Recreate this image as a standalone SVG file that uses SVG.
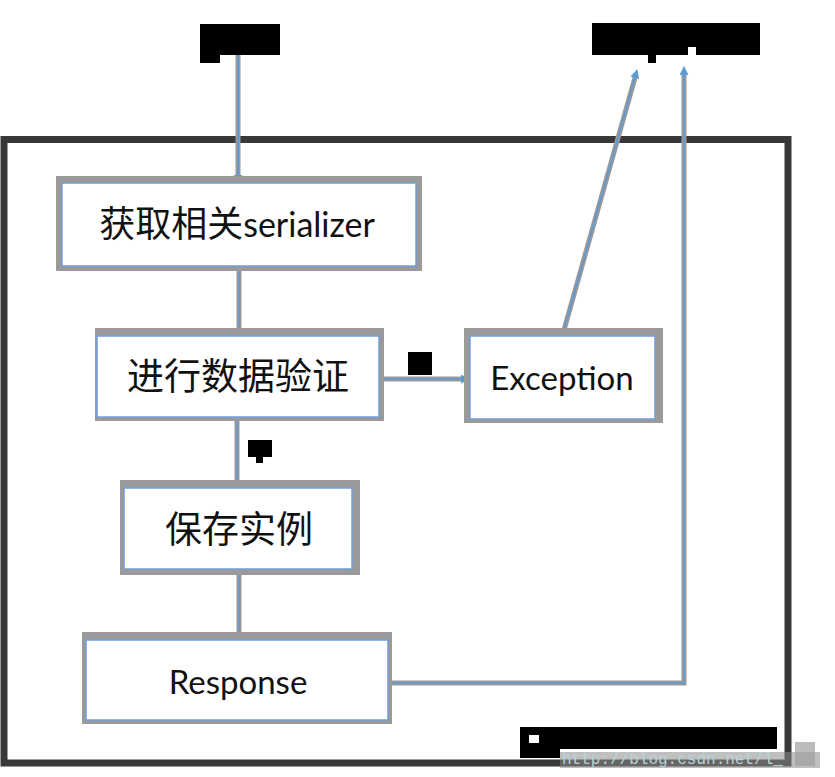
<svg xmlns="http://www.w3.org/2000/svg" width="835" height="777" viewBox="0 0 835 777">
<style>
.frame{fill:none;stroke:#383838;stroke-width:7}
.sh{fill:#9a9a9a}
.bx{fill:#ffffff;stroke:#6f9fd8;stroke-width:1.5}
.cg{fill:none;stroke:#999999;stroke-width:5}
.cb{fill:none;stroke:#5b9bd5;stroke-width:1.5}
.cj{font-family:"Noto Sans CJK SC","Noto Sans",sans-serif;font-size:36px;fill:#111}
.lt{font-family:Lato,"Open Sans",sans-serif;font-size:34px;fill:#111}
.blk{fill:#000}
.wm{font-family:"Liberation Mono",monospace;font-size:16px;fill:#b9d2d6}
</style>
<defs>
<marker id="ah" viewBox="0 0 10 10" refX="9" refY="5" markerWidth="9" markerHeight="9" markerUnits="userSpaceOnUse" orient="auto">
<path d="M0 0 L10 5 L0 10 Z" fill="#5b9bd5"/>
</marker>
</defs>
<rect class="frame" x="4" y="139.5" width="784" height="623.5"/>
<g id="label-top-left">
<rect class="blk" x="200" y="24" width="80" height="31"/>
<rect class="blk" x="200" y="55" width="20" height="8"/>
</g>
<g id="label-top-right">
<rect class="blk" x="592" y="23" width="168" height="32"/>
<rect fill="#fff" x="688" y="47" width="8" height="8"/>
<rect class="blk" x="648" y="55" width="8" height="8"/>
</g>
<g id="label-no">
<rect class="blk" x="408" y="352" width="24" height="23"/>
</g>
<g id="label-yes">
<rect class="blk" x="248" y="440" width="24" height="17"/>
<rect class="blk" x="256" y="457" width="7" height="6"/>
</g>
<g id="label-bottom">
<rect class="blk" x="520" y="727" width="257" height="22"/>
<rect class="blk" x="520" y="749" width="40" height="9"/>
<rect fill="#fff" x="529" y="735" width="10" height="8"/>
</g>
<g id="connectors">
<path class="cg" d="M238 55 V178"/>
<path class="cb" d="M238 55 V183" marker-end="url(#ah)"/>
<path class="cg" d="M239 271 V332"/>
<path class="cb" d="M239 271 V336" marker-end="url(#ah)"/>
<path class="cg" d="M237 421 V484"/>
<path class="cb" d="M237 421 V488" marker-end="url(#ah)"/>
<path class="cg" d="M239 575 V636"/>
<path class="cb" d="M239 575 V640" marker-end="url(#ah)"/>
<path class="cg" d="M384 379 H462"/>
<path class="cb" d="M384 379 H469" marker-end="url(#ah)"/>
<path class="cg" d="M564 330 L636 74"/>
<path class="cb" d="M564 330 L637 70" marker-end="url(#ah)"/>
<path class="cg" d="M392 683 H684 V72"/>
<path class="cb" d="M389 683 H684 V67" marker-end="url(#ah)"/>
</g>
<g id="node-serializer">
<rect class="sh" x="56" y="176" width="366" height="95"/>
<rect class="bx" x="62" y="183" width="354" height="83"/>
<text x="237" y="237" text-anchor="middle"><tspan class="cj">获取相关</tspan><tspan class="lt">serializer</tspan></text>
</g>
<g id="node-validate">
<rect class="sh" x="95" y="328" width="289" height="93"/>
<rect class="bx" x="97" y="336" width="282" height="81"/>
<text class="cj" x="238" y="390" text-anchor="middle" style="font-size:37px">进行数据验证</text>
</g>
<g id="node-exception">
<rect class="sh" x="464" y="328" width="199" height="95"/>
<rect class="bx" x="470" y="336" width="185" height="83"/>
<text class="lt" x="562" y="390" text-anchor="middle" style="font-size:33px">Exception</text>
</g>
<g id="node-save">
<rect class="sh" x="120" y="480" width="240" height="95"/>
<rect class="bx" x="124" y="488" width="228" height="81"/>
<text class="cj" x="239" y="543" text-anchor="middle" style="font-size:37px">保存实例</text>
</g>
<g id="node-response">
<rect class="sh" x="82" y="632" width="310" height="92"/>
<rect class="bx" x="86" y="640" width="302" height="80"/>
<text class="lt" x="238" y="694" text-anchor="middle" style="font-size:33px">Response</text>
</g>
<g id="watermark">
<rect x="560" y="752" width="260" height="16" fill="#8a8a8a" opacity="0.55"/>
<rect x="795" y="742" width="20" height="24" fill="#a0a0a0" opacity="0.7"/>
<text class="wm" x="562" y="764">http://blog.csdn.net/l_</text>
</g>
</svg>
